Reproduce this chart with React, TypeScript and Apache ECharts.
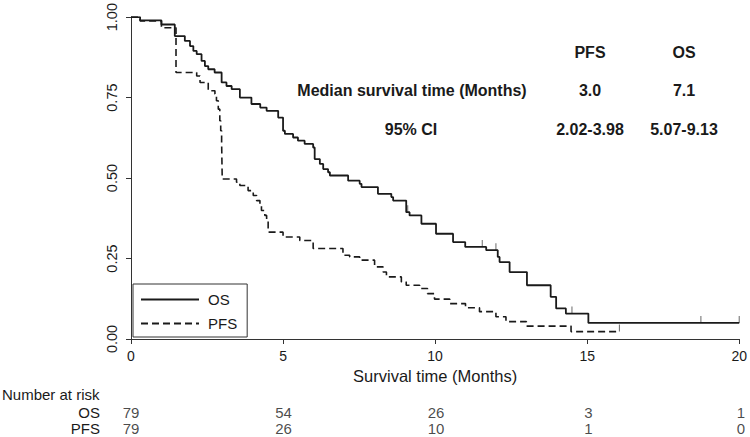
import React, { useEffect, useRef } from "react";
import * as echarts from "echarts";

// Kaplan–Meier steps
const osTimes = [0, 0.3, 1.0, 1.44, 1.77, 1.94, 2.05, 2.16, 2.32, 2.43, 2.54, 2.75, 2.98, 3.14, 3.31, 3.58, 3.96, 4.25, 4.46, 4.84, 5.0, 5.06, 5.33, 5.49, 5.71, 5.99, 6.04, 6.21, 6.32, 6.48, 6.54, 7.14, 7.52, 7.58, 8.12, 8.56, 8.62, 9.05, 9.16, 9.55, 10.03, 10.59, 10.99, 11.68, 12.06, 12.12, 12.45, 13.02, 13.8, 13.98, 14.3, 15.04, 20.0];
const osSurv = [1.0, 0.99, 0.977, 0.941, 0.926, 0.91, 0.895, 0.885, 0.864, 0.848, 0.838, 0.828, 0.797, 0.786, 0.776, 0.75, 0.73, 0.719, 0.709, 0.688, 0.647, 0.637, 0.626, 0.616, 0.606, 0.595, 0.559, 0.544, 0.528, 0.518, 0.508, 0.492, 0.482, 0.472, 0.451, 0.441, 0.43, 0.394, 0.384, 0.358, 0.327, 0.301, 0.286, 0.276, 0.255, 0.239, 0.208, 0.167, 0.131, 0.095, 0.079, 0.05, 0.05];

const pfsTimes = [0, 0.3, 1.0, 1.48, 2.16, 2.27, 2.54, 2.76, 2.81, 2.87, 2.92, 2.95, 2.98, 3.0, 3.47, 3.58, 3.85, 4.02, 4.13, 4.24, 4.29, 4.4, 4.46, 4.51, 5.0, 5.55, 5.99, 6.97, 7.19, 7.52, 8.01, 8.29, 8.4, 8.89, 9.05, 9.49, 9.75, 9.98, 10.48, 11.0, 11.46, 12.0, 12.33, 13.0, 14.47, 16.06];
const pfsSurv = [1.0, 0.988, 0.967, 0.828, 0.817, 0.797, 0.771, 0.761, 0.74, 0.714, 0.678, 0.647, 0.611, 0.497, 0.487, 0.477, 0.461, 0.446, 0.43, 0.415, 0.399, 0.384, 0.368, 0.332, 0.317, 0.306, 0.281, 0.26, 0.255, 0.245, 0.224, 0.208, 0.193, 0.177, 0.167, 0.157, 0.141, 0.124, 0.11, 0.097, 0.085, 0.069, 0.054, 0.04, 0.023, 0.023];

const osCensorTimes = [9.1, 11.55, 12.0, 14.5, 18.74, 20.0];
const osCensorSurv = [0.394, 0.286, 0.276, 0.079, 0.05, 0.05];
const pfsCensorTimes = [16.06];
const pfsCensorSurv = [0.023];

const xTicks = [0, 5, 10, 15, 20];
const riskRows = ["OS", "PFS"];
const riskOS = [79, 54, 26, 3, 1];
const riskPFS = [79, 26, 10, 1, 0];

const tableHeader = ["PFS", "OS"];
const medianLabel = "Median survival time (Months)";
const medianValues = ["3.0", "7.1"];
const ciLabel = "95% CI";
const ciValues = ["2.02-3.98", "5.07-9.13"];

const FONT = "'Liberation Sans', Arial, Helvetica, sans-serif";
const INK = "#1a1a1a";

export default function App() {
  const ref = useRef<HTMLDivElement>(null);
  useEffect(() => {
    if (!ref.current) return;
    const chart = echarts.init(ref.current, undefined, { renderer: "svg" });
    const zip = (a: number[], b: number[]) => a.map((t, i) => [t, b[i]]);
    const riskData: any[] = [];
    xTicks.forEach((t, i) => {
      riskData.push([t, "OS", riskOS[i]]);
      riskData.push([t, "PFS", riskPFS[i]]);
    });
    const colX = [590, 684];
    const txt = (text: string, x: number, y: number, align = "center", bold = true, size = 16) => ({
      type: "text",
      x,
      y,
      style: {
        text,
        fill: INK,
        font: `${bold ? "bold " : ""}${size}px ${FONT}`,
        textAlign: align,
        textVerticalAlign: "middle",
      },
    });
    const option: any = {
      animation: false,
      textStyle: { fontFamily: FONT, color: INK },
      grid: [
        { left: 131, right: 9, top: 16, bottom: 98 },
        { left: 131, right: 9, top: 404, height: 32 },
      ],
      xAxis: [
        {
          type: "value",
          gridIndex: 0,
          min: 0,
          max: 20,
          interval: 5,
          splitLine: { show: false },
          axisLine: { lineStyle: { color: "#333", width: 1 } },
          axisTick: { length: 5, lineStyle: { color: "#333" } },
          axisLabel: { fontSize: 14, color: INK, margin: 10, fontFamily: FONT },
          name: "Survival time (Months)",
          nameLocation: "middle",
          nameGap: 23,
          nameTextStyle: { fontSize: 16.5, color: INK, fontFamily: FONT },
        },
        {
          type: "value",
          gridIndex: 1,
          min: 0,
          max: 20,
          interval: 5,
          show: false,
        },
      ],
      yAxis: [
        {
          type: "value",
          gridIndex: 0,
          min: 0,
          max: 1,
          interval: 0.25,
          splitLine: { show: false },
          axisLine: { show: true, lineStyle: { color: "#333", width: 1 } },
          axisTick: { show: true, length: 5, lineStyle: { color: "#333" } },
          axisLabel: {
            rotate: 90,
            fontSize: 14.5,
            color: INK,
            margin: 12,
            fontFamily: FONT,
            formatter: (v: number) => v.toFixed(2),
          },
        },
        {
          type: "category",
          gridIndex: 1,
          data: riskRows,
          inverse: true,
          axisLine: { show: false },
          axisTick: { show: false },
          splitLine: { show: false },
          axisLabel: { fontSize: 15, color: INK, margin: 31, fontFamily: FONT, interval: 0 },
        },
      ],
      legend: {
        data: ["OS", "PFS"],
        orient: "vertical",
        left: 133,
        top: 284,
        borderColor: "#333",
        borderWidth: 1,
        borderRadius: 0,
        padding: [8, 10, 6, 7],
        itemWidth: 58,
        itemHeight: 14,
        itemGap: 9,
        itemStyle: { opacity: 0 },
        textStyle: { fontSize: 15, color: INK, fontFamily: FONT, padding: [0, 0, 0, 4] },
      },
      series: [
        {
          name: "OS",
          type: "line",
          step: "end",
          data: zip(osTimes, osSurv),
          symbol: "none",
          showSymbol: false,
          lineStyle: { color: INK, width: 1.8, type: "solid" },
          itemStyle: { color: INK },
        },
        {
          name: "PFS",
          type: "line",
          step: "end",
          data: zip(pfsTimes, pfsSurv),
          symbol: "none",
          showSymbol: false,
          lineStyle: { color: INK, width: 1.6, type: [7, 4] },
          itemStyle: { color: INK },
        },
        {
          name: "censor",
          type: "scatter",
          data: zip(osCensorTimes, osCensorSurv).concat(zip(pfsCensorTimes, pfsCensorSurv)),
          symbol: "rect",
          symbolSize: [1, 7],
          symbolOffset: [0, -3.5],
          itemStyle: { color: "#444" },
          silent: true,
        },
        {
          name: "risk",
          type: "scatter",
          xAxisIndex: 1,
          yAxisIndex: 1,
          data: riskData,
          symbolSize: 1,
          itemStyle: { color: "rgba(0,0,0,0)" },
          label: {
            show: true,
            position: "inside",
            formatter: (p: any) => String(p.value[2]),
            fontSize: 15,
            color: INK,
            fontFamily: FONT,
          },
          silent: true,
        },
      ],
      graphic: [
        txt(tableHeader[0], colX[0], 52),
        txt(tableHeader[1], colX[1], 52),
        txt(medianLabel, 412, 90),
        txt(medianValues[0], colX[0], 90),
        txt(medianValues[1], colX[1], 90),
        txt(ciLabel, 411, 129),
        txt(ciValues[0], colX[0], 129),
        txt(ciValues[1], colX[1], 129),
        txt("Number at risk", 2, 394, "left", false, 15),
      ],
    };
    chart.setOption(option);
    return () => chart.dispose();
  }, []);
  return <div ref={ref} style={{ width: 750, height: 437, position: "absolute", left: 0, top: 0, background: "#fff" }} />;
}
